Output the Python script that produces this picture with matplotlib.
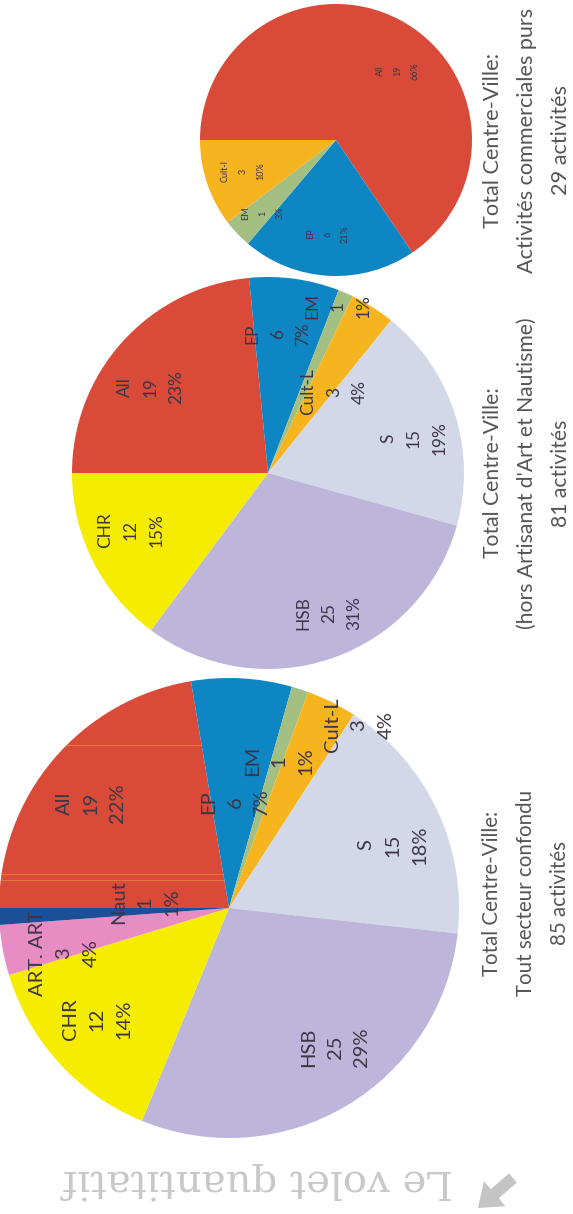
import matplotlib
matplotlib.use("Agg")
import matplotlib.pyplot as plt
from matplotlib.patches import FancyArrow

W, H = 573, 1214

# Activity counts per sector
sectors_all = ["All", "EP", "EM", "Cult-L", "S", "HSB", "CHR", "ART", "Naut"]
counts_all = [19, 6, 1, 3, 15, 25, 12, 3, 1]
sectors_mid = ["All", "EP", "EM", "Cult-L", "S", "HSB", "CHR"]
counts_mid = [19, 6, 1, 3, 15, 25, 12]
sectors_pure = ["All", "EP", "EM", "Cult-l"]
counts_pure = [19, 6, 1, 3]

sector_colors = {
    "All": "#d94a39", "EP": "#0f86c4", "EM": "#a4bf82", "Cult-L": "#f6b51e",
    "Cult-l": "#f6b51e", "S": "#d3d8e8", "HSB": "#bdb5da", "CHR": "#f6ec00",
    "ART": "#e88cc4", "Naut": "#1b4f98",
}

# Slice annotations: sector name, count, share
labels_all = [
    ("All\n19\n22%", 91, 803), ("EP\n6\n7%", 235, 802), ("EM\n1\n1%", 279, 761),
    ("Cult-L\n3\n4%", 359, 725), ("S\n15\n18%", 393, 845), ("HSB\n25\n29%", 335, 1047),
    ("CHR\n12\n14%", 97, 1019), ("ART. ART\n3\n4%", 64, 953), ("Naut\n1\n1%", 145, 902),
]
labels_mid = [
    ("All\n19\n23%", 151, 387), ("EP\n6\n7%", 278, 334), ("EM\n1\n1%", 338, 306),
    ("Cult-L\n3\n4%", 334, 392), ("S\n15\n19%", 414, 438), ("HSB\n25\n31%", 329, 613),
    ("CHR\n12\n15%", 131, 530),
]
labels_pure = [
    ("All\n19\n66%", 398, 71), ("EP\n6\n21%", 328, 234), ("EM\n1\n3%", 263, 213),
    ("Cult-l\n3\n10%", 243, 171),
]

captions = [
    ("Total Centre-Ville:\nTout secteur confondu\n85 activités", 526, 893, 14.8),
    ("Total Centre-Ville:\n(hors Artisanat d'Art et Nautisme)\n81 activités", 527, 473, 15.2),
    ("Total Centre-Ville:\nActivités commerciales purs\n29 activités", 527, 140, 15.6),
]

pies = [
    (sectors_all, counts_all, (229, 908), 230, labels_all, 14.5, 1.7),
    (sectors_mid, counts_mid, (268, 473), 196, labels_mid, 12.4, 1.74),
    (sectors_pure, counts_pure, (336, 140), 136, labels_pure, 6.5, 2.2),
]

fig = plt.figure(figsize=(W / 100, H / 100), dpi=100)
ax = fig.add_axes([0, 0, 1, 1])

red_wedge = None
for sectors, counts, (cx, cy), radius, labels, size, spacing in pies:
    wedges, _ = ax.pie(
        counts, colors=[sector_colors[s] for s in sectors], startangle=180,
        counterclock=False, center=(cx, H - cy), radius=radius, frame=True,
        wedgeprops={"linewidth": 0},
    )
    if red_wedge is None:
        red_wedge = wedges[0]
    for text, x, y in labels:
        ax.text(x, H - y, text, rotation=90, ha="center", va="center", ma="center",
                fontsize=size, linespacing=spacing, color="#3c3646", family="Lato")

# Thin orange scan streaks across the food sector of the largest pie
for y in (745, 874, 880):
    line = ax.plot([0, 228], [H - y, H - y], color="#ef8a3a", lw=0.7, alpha=0.7)[0]
    line.set_clip_path(red_wedge)

for text, x, y, size in captions:
    ax.text(x, H - y, text, rotation=90, ha="center", va="center", ma="center",
            fontsize=size, linespacing=1.9, color="#555555", family="Lato")

# Section heading, printed upside down on the rotated page
ax.text(258, H - 1181, "Le volet quantitatif", rotation=180, ha="center", va="center",
        fontsize=29, color="#c8c8c8", family="DejaVu Serif")
ax.add_patch(FancyArrow(513, H - 1178, -35, -30, width=12, head_width=33, head_length=22,
                        length_includes_head=True, color="#c4c4c4", lw=0))

ax.set_xlim(0, W)
ax.set_ylim(0, H)
ax.set_aspect("auto")
ax.axis("off")
fig.savefig("out.png", dpi=100, facecolor="white")
